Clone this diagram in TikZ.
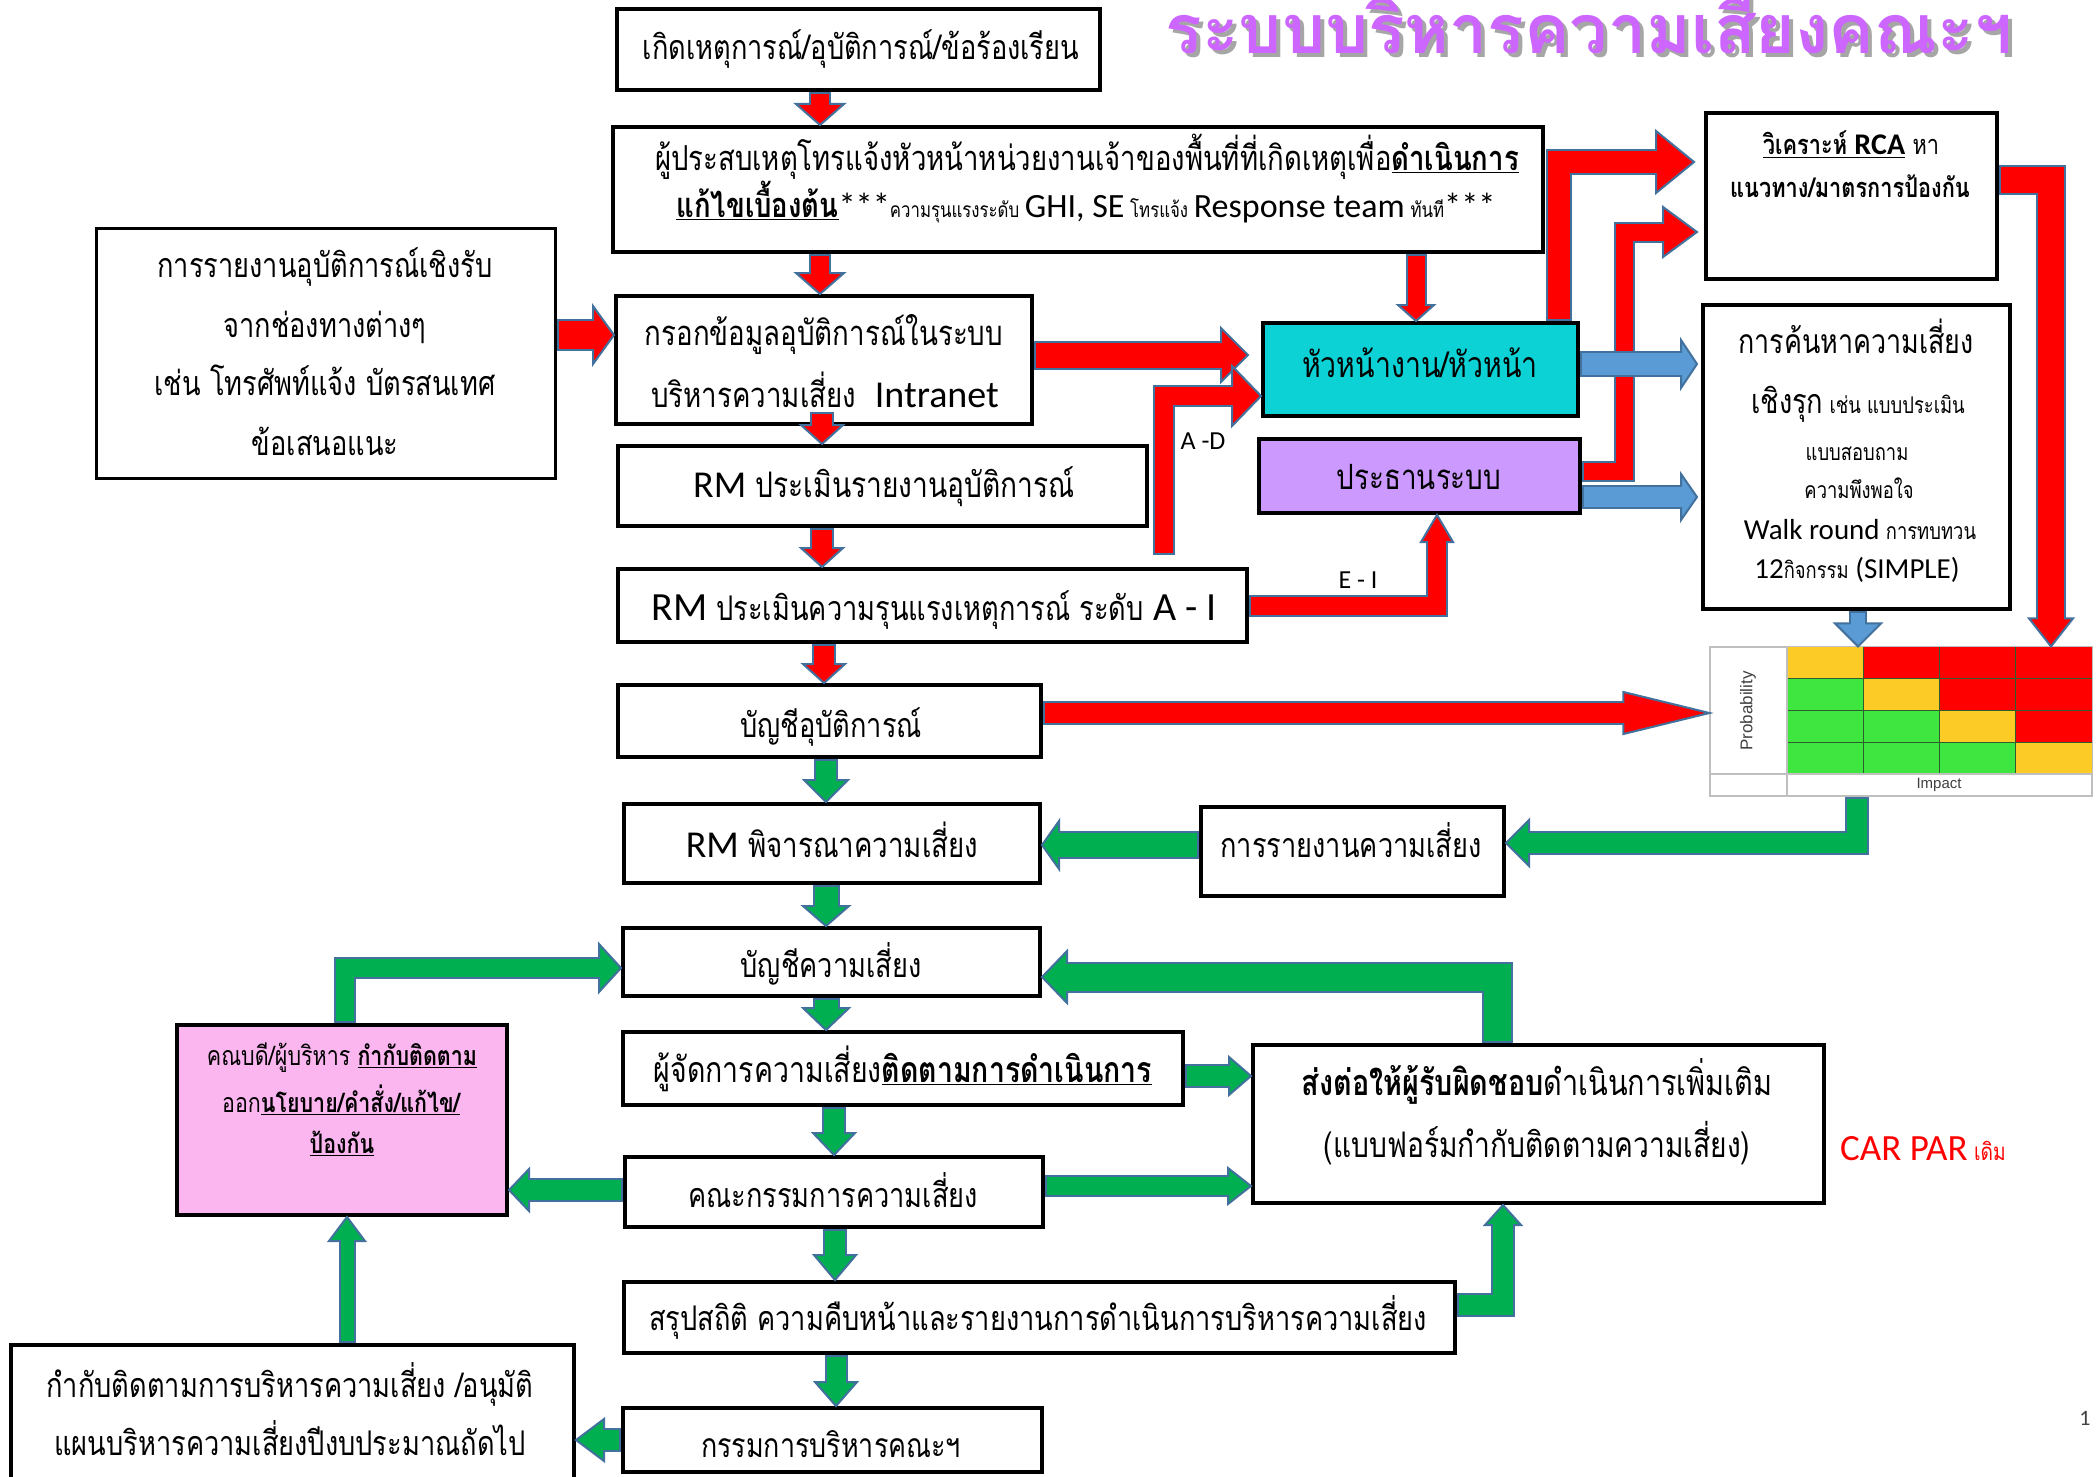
\documentclass[tikz,border=0pt]{standalone}
\usepackage{fontspec}
\setmainfont{Carlito}
\newfontfamily\thf[Script=Thai,FakeStretch=0.80]{Loma}
\newfontfamily\thttl[Script=Thai]{Loma}
\newfontfamily\arial{Liberation Sans}
\usetikzlibrary{calc}

\definecolor{aline}{HTML}{41719C}
\definecolor{arrred}{HTML}{FF0000}
\definecolor{arrgreen}{HTML}{00B050}
\definecolor{arrblue}{HTML}{5B9BD5}
\definecolor{cyanbox}{HTML}{0DD2D5}
\definecolor{purplebox}{HTML}{CC99FF}
\definecolor{pinkbox}{HTML}{FBB6F0}
\definecolor{ttlpurple}{HTML}{CC66FF}
\definecolor{ttlshadow}{HTML}{A6A6A6}
\definecolor{mxred}{HTML}{FF0000}
\definecolor{mxyellow}{HTML}{FDCB26}
\definecolor{mxgreen}{HTML}{3FE63F}
\definecolor{mxgrid}{HTML}{2E5E2E}
\definecolor{mxframe}{HTML}{BFBFBF}

\newcommand\ts[1]{\fontsize{#1}{#1}\selectfont}
\newcommand\en[1]{{\rmfamily #1}}
\newcommand\ul[1]{\underline{\smash{#1}}}
\def\aow{1pt}

% rectangle node given by its corners (pixel units)
\newcommand\boxnode[6][]{%
  \node[box,#1,minimum width={(#5-#3)*0.5pt},minimum height={(#6-#4)*0.5pt}]
    (#2) at ({(#3+#5)/2},{(#4+#6)/2}) {};}

% block arrow: #1 fill, #2 shaft width, #3 head half-width, #4 head length,
% #5 path up to the last bend (ending in --, or empty), #6 last bend or tail, #7 tip
\newcommand\barrow[7]{%
  \coordinate (ba-p) at #6;
  \coordinate (ba-t) at #7;
  \coordinate (ba-b) at ($(ba-t)!#4*0.5pt!(ba-p)$);
  \coordinate (ba-l) at ($(ba-b)!#3*0.5pt!90:(ba-t)$);
  \coordinate (ba-r) at ($(ba-b)!#3*0.5pt!-90:(ba-t)$);
  \draw[draw=aline,line join=miter,line width={#2*0.5pt+2*\aow}] #5 (ba-p) -- (ba-b);
  \filldraw[fill=#1,draw=aline,line width=\aow,line join=miter] (ba-l) -- (ba-t) -- (ba-r) -- cycle;
  \draw[draw=#1,line join=miter,line width={#2*0.5pt},shorten <=\aow,shorten >=-\aow] #5 (ba-p) -- (ba-b);
}

\tikzset{
  box/.style={draw=black,line width=2pt,inner sep=0pt,fill=white},
  txt/.style={inner sep=0pt,anchor=base},
}

\begin{document}
\begin{tikzpicture}[x=0.5pt,y=-0.5pt]
\useasboundingbox (0,0) rectangle (2098,1477);
\fill[white] (0,0) rectangle (2098,1477);

% heading with its shadow
\node[txt,text=ttlshadow] (title-sh) at (1593,58) {\thttl\bfseries\ts{34}ระบบบริหารความเสี่ยงคณะฯ};
\node[txt,text=ttlpurple] (title) at (1589,54) {\thttl\bfseries\ts{34}ระบบบริหารความเสี่ยงคณะฯ};

% boxes
\boxnode{A}{617}{9}{1100}{90}
\boxnode{B}{613}{127}{1543}{252}
\boxnode[line width=1.5pt]{C}{96}{228}{555}{478}
\boxnode{D}{616}{296}{1032}{424}
\boxnode{E}{618}{446}{1147}{526}
\boxnode{F}{618}{569}{1247}{642}
\boxnode{G}{618}{685}{1041}{757}
\boxnode{H}{624}{804}{1040}{883}
\boxnode{I}{1201}{807}{1504}{896}
\boxnode{J}{623}{928}{1040}{996}
\boxnode{K}{623}{1032}{1183}{1105}
\boxnode{L}{1253}{1045}{1824}{1203}
\boxnode{M}{625}{1157}{1043}{1227}
\boxnode{N}{624}{1282}{1455}{1353}
\boxnode{O}{623}{1408}{1042}{1472}
\boxnode[fill=pinkbox]{P}{177}{1025}{507}{1215}
\boxnode{Q}{11}{1345}{574}{1484}
\boxnode[fill=cyanbox]{R}{1263}{323}{1578}{416}
\boxnode[fill=purplebox]{S}{1259}{439}{1580}{513}
\boxnode{T}{1706}{113}{1997}{279}
\boxnode{U}{1703}{305}{2010}{609}

% box texts
\node[txt] (A-t) at (861,60) {\thf\ts{17}เกิดเหตุการณ์/อุบัติการณ์/ข้อร้องเรียน};
\node[txt] (B-t1) at (1087,170) {\thf\ts{17.2}ผู้ประสบเหตุโทรแจ้งหัวหน้าหน่วยงานเจ้าของพื้นที่ที่เกิดเหตุเพื่อ\ul{\bfseries ดำเนินการ}};
\node[txt] (B-t2) at (1086,217) {\thf\ts{17.2}\ul{\bfseries แก้ไขเบื้องต้น}\en{***}{\ts{10.5}ความรุนแรงระดับ }\en{\ts{17}GHI, SE}{\ts{10.5} โทรแจ้ง }\en{\ts{17}Response team}{\ts{10.5} ทันที}\en{***}};
\node[txt] (C-t1) at (325,277) {\thf\ts{17}การรายงานอุบัติการณ์เชิงรับ};
\node[txt] (C-t2) at (325,337) {\thf\ts{17}จากช่องทางต่างๆ};
\node[txt] (C-t3) at (325,395) {\thf\ts{17}เช่น โทรศัพท์แจ้ง บัตรสนเทศ};
\node[txt] (C-t4) at (325,455) {\thf\ts{17}ข้อเสนอแนะ};
\node[txt] (D-t1) at (824,345) {\thf\ts{17.3}กรอกข้อมูลอุบัติการณ์ในระบบ};
\node[txt] (D-t2) at (825,407) {\thf\ts{17.3}บริหารความเสี่ยง\ \ \en{\ts{19}Intranet}};
\node[txt] (E-t) at (884,497) {\thf\ts{17.6}\en{\ts{19}RM} ประเมินรายงานอุบัติการณ์};
\node[txt] (F-t) at (934,620) {\thf\ts{17}\en{\ts{20}RM} ประเมินความรุนแรงเหตุการณ์ ระดับ \en{\ts{20}A - I}};
\node[txt] (G-t) at (831,737) {\thf\ts{17}บัญชีอุบัติการณ์};
\node[txt] (H-t) at (832,857) {\thf\ts{17.3}\en{\ts{19}RM} พิจารณาความเสี่ยง};
\node[txt] (I-t) at (1351,857) {\thf\ts{17}การรายงานความเสี่ยง};
\node[txt] (J-t) at (831,977) {\thf\ts{17}บัญชีความเสี่ยง};
\node[txt] (K-t) at (903,1082) {\thf\ts{17.8}ผู้จัดการความเสี่ยง\ul{\bfseries ติดตามการดำเนินการ}};
\node[txt] (L-t1) at (1537,1095) {\thf\ts{18}{\bfseries ส่งต่อให้ผู้รับผิดชอบ}ดำเนินการเพิ่มเติม};
\node[txt] (L-t2) at (1537,1157) {\thf\ts{17.6}(แบบฟอร์มกำกับติดตามความเสี่ยง)};
\node[txt] (M-t) at (833,1207) {\thf\ts{17}คณะกรรมการความเสี่ยง};
\node[txt] (N-t) at (1038,1330) {\thf\ts{17}สรุปสถิติ ความคืบหน้าและรายงานการดำเนินการบริหารความเสี่ยง};
\node[txt] (O-t) at (831,1457) {\thf\ts{16.8}กรรมการบริหารคณะฯ};
\node[txt] (P-t1) at (342,1065) {\thf\ts{13.4}คณบดี/ผู้บริหาร \ul{\bfseries กำกับติดตาม}};
\node[txt] (P-t2) at (341,1112) {\thf\ts{13.4}ออก\ul{\bfseries นโยบาย/คำสั่ง/แก้ไข/}};
\node[txt] (P-t3) at (342,1153) {\thf\ts{13.4}\ul{\bfseries ป้องกัน}};
\node[txt] (Q-t1) at (290,1397) {\thf\ts{17}กำกับติดตามการบริหารความเสี่ยง /อนุมัติ};
\node[txt] (Q-t2) at (290,1455) {\thf\ts{17}แผนบริหารความเสี่ยงปีงบประมาณถัดไป};
\node[txt] (R-t) at (1420,377) {\thf\ts{17.8}หัวหน้างาน/หัวหน้า};
\node[txt] (S-t) at (1419,489) {\thf\ts{17.4}ประธานระบบ};
\node[txt] (T-t1) at (1851,155) {\thf\ts{13.6}\ul{\bfseries วิเคราะห์ \en{\ts{15}RCA}} หา};
\node[txt] (T-t2) at (1850,197) {\thf\ts{13.6}\bfseries แนวทาง/มาตรการป้องกัน};
\node[txt] (U-t1) at (1856,353) {\thf\ts{16.8}การค้นหาความเสี่ยง};
\node[txt] (U-t2) at (1858,413) {\thf\ts{17}เชิงรุก{\ts{11.5} เช่น แบบประเมิน}};
\node[txt] (U-t3) at (1857,460) {\thf\ts{11.5}แบบสอบถาม};
\node[txt] (U-t4) at (1859,498) {\thf\ts{11.5}ความพึงพอใจ};
\node[txt] (U-t5) at (1860,539) {\thf\ts{11.5}\en{\ts{14.5}Walk round} การทบทวน};
\node[txt] (U-t6) at (1857,578) {\thf\ts{11.5}\en{\ts{14.5}12}กิจกรรม\en{\ts{14.5} (SIMPLE)}};

% free labels
\node[txt] (lab-ad) at (1203,449) {\ts{13}A -D};
\node[txt] (lab-ei) at (1358,588) {\ts{13}E - I};
\node[txt,text=red] (carpar) at (1923,1160) {\ts{18.5}CAR PAR{\thf\ts{12} เดิม}};
\node[txt,text=black!75] (pageno) at (2085,1425) {\ts{11}1};

% risk matrix
\node[draw=mxframe,line width=0.6pt,inner sep=0pt,fill=white,
      minimum width={(2092-1710)*0.5pt},minimum height={(796-647)*0.5pt}] (mx) at (1901,721.5) {};
\foreach \r/\cols in {0/{mxyellow,mxred,mxred,mxred},1/{mxgreen,mxyellow,mxred,mxred},
                      2/{mxgreen,mxgreen,mxyellow,mxred},3/{mxgreen,mxgreen,mxgreen,mxyellow}}{
  \foreach \c [count=\i from 0] in \cols {
    \fill[\c] ({1787+\i*76.25},{647+\r*31.75}) rectangle ({1787+(\i+1)*76.25},{647+(\r+1)*31.75});
  }
}
\foreach \i in {1,2,3} \draw[mxgrid,line width=0.5pt] ({1787+\i*76.25},647) -- ({1787+\i*76.25},774);
\foreach \r in {1,2,3} \draw[mxgrid,line width=0.5pt] (1787,{647+\r*31.75}) -- (2092,{647+\r*31.75});
\draw[mxframe,line width=0.6pt] (1787,647) -- (1787,796) (1710,774) -- (2092,774);
\node[rotate=90,text=black!75,inner sep=0pt] (prob) at (1748,711) {\arial\ts{8.5}Probability};
\node[text=black!75,inner sep=0pt] (imp) at (1939,785) {\arial\ts{7.5}Impact};

% red flow
\barrow{arrred}{18}{24}{21}{}{(A.south -| 820,0)}{(B.north -| 820,0)}
\barrow{arrred}{18}{24}{21}{}{(B.south -| 820,0)}{(D.north -| 820,0)}
\barrow{arrred}{20}{21}{19}{}{($(D.south -| 822,0)+(0,-14)$)}{(E.north -| 822,0)}
\barrow{arrred}{20}{21}{19}{}{(E.south -| 822,0)}{(F.north -| 822,0)}
\barrow{arrred}{20}{21}{19}{}{(F.south -| 824,0)}{(G.north -| 824,0)}
\barrow{arrred}{28}{29}{21}{}{(C.east |- 0,335)}{(D.west |- 0,335)}
\barrow{arrred}{25}{27}{27}{}{(D.east |- 0,355)}{($(R.west |- 0,355)+(-13,0)$)}
\barrow{arrred}{18}{30}{29}{($(F.north -| 1164,0)+(0,-12)$) --}{(1164,396)}{(R.west |- 0,396)}
\barrow{arrred}{17}{18}{16}{}{(B.south -| 1416,0)}{(R.north -| 1416,0)}
\barrow{arrred}{22}{31}{38}{(R.north -| 1559,0) --}{(1559,162)}{($(T.west |- 0,162)+(-10,0)$)}
\barrow{arrred}{17}{25}{34}{(S.east |- 0,471) -- (1624,471) --}{(1624,232)}{($(T.west |- 0,232)+(-7,0)$)}
\barrow{arrred}{18}{16}{27}{(F.east |- 0,606) --}{(1437,606)}{(S.south -| 1437,0)}
\barrow{arrred}{26}{22}{28}{(T.east |- 0,180) --}{(2051,180)}{(mx.north -| 2051,0)}
\barrow{arrred}{20}{21}{86}{}{(G.east |- 0,713)}{(mx.west |- 0,713)}

% blue flow
\barrow{arrblue}{22}{24}{16}{}{(R.east |- 0,364)}{($(U.west |- 0,364)+(-4,0)$)}
\barrow{arrblue}{20}{23}{16}{}{(S.east |- 0,497)}{($(U.west |- 0,497)+(-4,0)$)}
\barrow{arrblue}{14}{23}{23}{}{(U.south -| 1858,0)}{(mx.north -| 1858,0)}

% green flow
\barrow{arrgreen}{20}{23}{23}{(mx.south -| 1857,0) --}{(1857,843)}{(I.east |- 0,843)}
\barrow{arrgreen}{24}{24}{17}{}{(I.west |- 0,845)}{(H.east |- 0,845)}
\barrow{arrgreen}{20}{22}{22}{}{(G.south -| 826,0)}{(H.north -| 826,0)}
\barrow{arrgreen}{23}{23}{20}{}{(H.south -| 826,0)}{(J.north -| 826,0)}
\barrow{arrgreen}{23}{23}{22}{}{(J.south -| 826,0)}{(K.north -| 826,0)}
\barrow{arrgreen}{20}{21}{22}{}{(K.south -| 834,0)}{(M.north -| 834,0)}
\barrow{arrgreen}{20}{21}{25}{}{(M.south -| 835,0)}{(N.north -| 835,0)}
\barrow{arrgreen}{19}{21}{24}{}{(N.south -| 836,0)}{(O.north -| 836,0)}
\barrow{arrgreen}{20}{19}{22}{}{(K.east |- 0,1076)}{(L.west |- 0,1076)}
\barrow{arrgreen}{18}{18}{23}{}{(M.east |- 0,1186)}{(L.west |- 0,1186)}
\barrow{arrgreen}{20}{21}{20}{}{(M.west |- 0,1190)}{(P.east |- 0,1190)}
\barrow{arrgreen}{20}{18}{20}{(N.east |- 0,1305) --}{(1503,1305)}{(L.south -| 1503,0)}
\barrow{arrgreen}{27}{26}{25}{(L.north -| 1497,0) --}{(1497,977)}{(J.east |- 0,977)}
\barrow{arrgreen}{18}{24}{22}{(P.north -| 345,0) --}{(345,968)}{(J.west |- 0,968)}
\barrow{arrgreen}{13}{18}{24}{}{(Q.north -| 347,0)}{(P.south -| 347,0)}
\barrow{arrgreen}{20}{21}{28}{}{(O.west |- 0,1440)}{(Q.east |- 0,1440)}
\end{tikzpicture}
\end{document}
